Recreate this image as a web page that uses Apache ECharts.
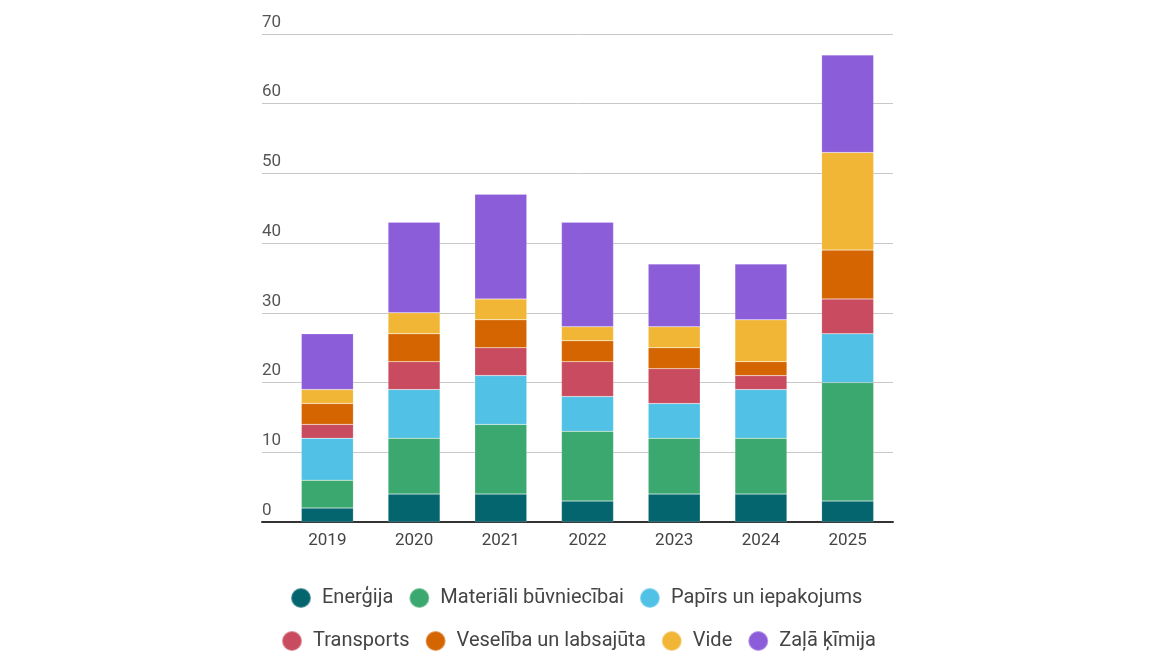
<!DOCTYPE html>
<html>
<head>
<meta charset="utf-8">
<script src="https://cdn.jsdelivr.net/npm/echarts@6/dist/echarts.min.js"></script>
<style>
  html, body { margin: 0; padding: 0; background: #fff; }
  #main { width: 1170px; height: 671px; }
</style>
</head>
<body>
<div id="main"></div>
<script>
// kategorijas un vērtības
var years = ['2019', '2020', '2021', '2022', '2023', '2024', '2025'];
var seriesNames = ['Enerģija', 'Materiāli būvniecībai', 'Papīrs un iepakojums',
  'Transports', 'Veselība un labsajūta', 'Vide', 'Zaļā ķīmija'];
var energija   = [2, 4, 4, 3, 4, 4, 3];
var materiali  = [4, 8, 10, 10, 8, 8, 17];
var papirs     = [6, 7, 7, 5, 5, 7, 7];
var transports = [2, 4, 4, 5, 5, 2, 5];
var veseliba   = [3, 4, 4, 3, 3, 2, 7];
var vide       = [2, 3, 3, 2, 3, 6, 14];
var kimija     = [8, 13, 15, 15, 9, 8, 14];
var yTicks = [0, 10, 20, 30, 40, 50, 60, 70];

var colors = ['#05656f', '#3aa86f', '#51c1e5', '#c94b5f', '#d46500', '#f2b636', '#8c5dd9'];
var values = [energija, materiali, papirs, transports, veseliba, vide, kimija];

var myChart = echarts.init(document.getElementById('main'));

var series = seriesNames.map(function (name, i) {
  return {
    name: name,
    type: 'bar',
    stack: 'kopa',
    barWidth: '60%',
    xAxisIndex: 0,
    yAxisIndex: 0,
    itemStyle: { color: colors[i], borderColor: 'rgba(255,255,255,0.35)', borderWidth: 0.5 },
    emphasis: { disabled: true },
    data: values[i]
  };
});

var legendText = { fontFamily: 'Roboto', fontSize: 20, color: '#444', padding: [0, 0, 0, 6] };

myChart.setOption({
  textStyle: { fontFamily: 'Roboto' },
  animation: false,
  grid: [
    { left: 284, right: 279, top: 34, bottom: 149 },
    { left: 262, right: 277, top: 34, bottom: 149 }
  ],
  legend: [
    {
      data: seriesNames.slice(0, 3),
      top: 582, left: 285,
      icon: 'circle', itemWidth: 20, itemHeight: 20, itemGap: 15,
      textStyle: legendText, selectedMode: false
    },
    {
      data: seriesNames.slice(3),
      top: 625, left: 276,
      icon: 'circle', itemWidth: 20, itemHeight: 20, itemGap: 15,
      textStyle: legendText, selectedMode: false
    }
  ],
  xAxis: [
    {
      type: 'category',
      gridIndex: 0,
      data: years,
      axisLine: { show: false },
      axisTick: { show: false },
      axisLabel: { color: '#444', fontSize: 17, margin: 10 }
    },
    {
      type: 'value',
      gridIndex: 1,
      min: 0, max: 1,
      axisLine: { show: true, lineStyle: { color: '#333', width: 2 } },
      axisTick: { show: false },
      axisLabel: { show: false },
      splitLine: { show: false }
    }
  ],
  yAxis: [
    {
      type: 'value',
      gridIndex: 0,
      min: yTicks[0], max: yTicks[yTicks.length - 1], interval: 10,
      axisLine: { show: false },
      axisTick: { show: false },
      axisLabel: { show: false },
      splitLine: { show: false }
    },
    {
      type: 'value',
      gridIndex: 1,
      min: yTicks[0], max: yTicks[yTicks.length - 1], interval: 10,
      axisLine: { show: false },
      axisTick: { show: false },
      axisLabel: {
        inside: true,
        verticalAlign: 'bottom',
        color: '#555',
        fontSize: 17,
        margin: 0,
        padding: [0, 0, 3, 0]
      },
      splitLine: { lineStyle: { color: '#c8c8c8', width: 1 } }
    }
  ],
  series: series
});
</script>
</body>
</html>
